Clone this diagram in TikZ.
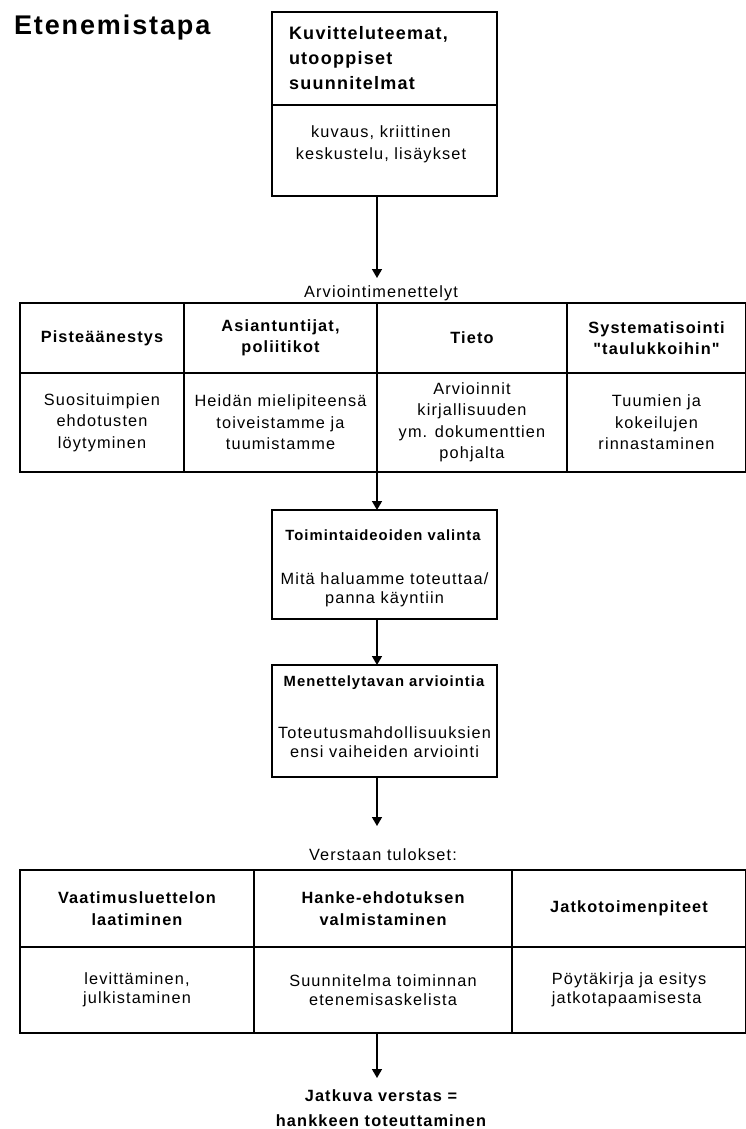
\documentclass[tikz,border=0pt]{standalone}
\usepackage{fontspec}
\setmainfont{Liberation Sans}[LetterSpace=7, Ligatures=TeXOff]
\usetikzlibrary{arrows.meta,calc}
\begin{document}
\begin{tikzpicture}[x=1pt,y=-1pt,
  every node/.style={inner sep=0pt, outer sep=0pt},
  txt/.style={font=\fontsize{16.3}{21.5}\selectfont, align=center},
  txtb/.style={font=\fontsize{16.3}{19.5}\selectfont, align=center},
  bhd/.style={font=\bfseries\fontsize{16.3}{21.5}\selectfont, align=center},
  boxtitle/.style={font=\bfseries\fontsize{14.8}{18}\selectfont},
  boxline/.style={draw, line width=1.5pt},
  cell/.style={boxline, align=center},
  arr/.style={line width=1.5pt, -{Triangle[width=10pt,length=9pt]}}
]
\useasboundingbox (0,0) rectangle (746,1129);

\node[anchor=west, font=\bfseries\fontsize{27}{30}\selectfont] (title) at (14,28) {Etenemistapa};

% top box
\node[boxline, minimum width=225, minimum height=93] (top1) at (384.5,58.5) {};
\node[boxline, minimum width=225, minimum height=91] (top2) at (384.5,150.5) {};
\node[anchor=west, align=left, font=\bfseries\fontsize{18}{25}\selectfont] (top1t) at (289,58) {Kuvitteluteemat,\\utooppiset\\suunnitelmat};
\node[font=\fontsize{16.3}{22}\selectfont, align=center] (top2t) at (381,144) {kuvaus, kriittinen\\keskustelu, lisäykset};

\coordinate (colx) at (377,0);
\coordinate (a1) at (377,278);
\draw[arr] (top2.south -| colx) -- (a1);
\node[txt] (lab1) at (381,293) {Arviointimenettelyt};

% table 1
\node[cell, bhd, minimum width=164, minimum height=70] (h1) at (102,338) {Pisteäänestys};
\node[cell, bhd, minimum width=193, minimum height=70] (h2) at (280.5,338) {Asiantuntijat,\\poliitikot};
\node[cell, bhd, minimum width=190, minimum height=70] (h3) at (472,338) {Tieto};
\node[cell, bhd, minimum width=179, minimum height=70] (h4) at (656.5,338) {Systematisointi\\"taulukkoihin"};
\node[cell, txt, minimum width=164, minimum height=99] (b1) at (102,422.5) {Suosituimpien\\ehdotusten\\löytyminen};
\node[cell, txt, minimum width=193, minimum height=99] (b2) at (280.5,422.5) {Heidän mielipiteensä\\toiveistamme ja\\tuumistamme};
\node[cell, txt, minimum width=190, minimum height=99] (b3) at (472,422.5) {Arvioinnit\\kirjallisuuden\\ym. dokumenttien\\pohjalta};
\node[cell, txt, minimum width=179, minimum height=99] (b4) at (656.5,422.5) {Tuumien ja\\kokeilujen\\rinnastaminen};

% box 2
\node[boxline, minimum width=225, minimum height=109] (box2) at (384.5,564.5) {};
\node[boxtitle] (box2t) at (383,535) {Toimintaideoiden valinta};
\node[txtb] (box2b) at (384.5,590) {Mitä haluamme toteuttaa/\\panna käyntiin};
\draw[arr] (b3.south west) -- (box2.north -| b3.south west);

% box 3
\node[boxline, minimum width=225, minimum height=112] (box3) at (384.5,721) {};
\node[boxtitle] (box3t) at (384,683) {Menettelytavan arviointia};
\node[txtb] (box3b) at (384.5,742) {Toteutusmahdollisuuksien\\ensi vaiheiden arviointi};
\draw[arr] (box2.south -| colx) -- (box3.north -| colx);

\coordinate (a4) at (377,826);
\draw[arr] (box3.south -| colx) -- (a4);
\node[txt] (lab2) at (383,855) {Verstaan tulokset:};

% table 3
\node[cell, bhd, minimum width=234, minimum height=77] (v1) at (137,908.5) {Vaatimusluettelon\\laatiminen};
\node[cell, bhd, minimum width=258, minimum height=77] (v2) at (383,908.5) {Hanke-ehdotuksen\\valmistaminen};
\node[cell, bhd, minimum width=234, minimum height=77] (v3) at (629,908.5) {Jatkotoimenpiteet};
\node[cell, txtb, minimum width=234, minimum height=86] (w1) at (137,990) {levittäminen,\\julkistaminen};
\node[cell, txtb, minimum width=258, minimum height=86] (w2) at (383,990) {Suunnitelma toiminnan\\etenemisaskelista};
\node[cell, txtb, align=left, minimum width=234, minimum height=86] (w3) at (629,990) {Pöytäkirja ja esitys\\jatkotapaamisesta};

\coordinate (a5) at (377,1078);
\draw[arr] (w2.south -| colx) -- (a5);
\node[font=\bfseries\fontsize{16.3}{25}\selectfont, align=center] (fin) at (381,1108) {Jatkuva verstas =\\hankkeen toteuttaminen};
\end{tikzpicture}
\end{document}
